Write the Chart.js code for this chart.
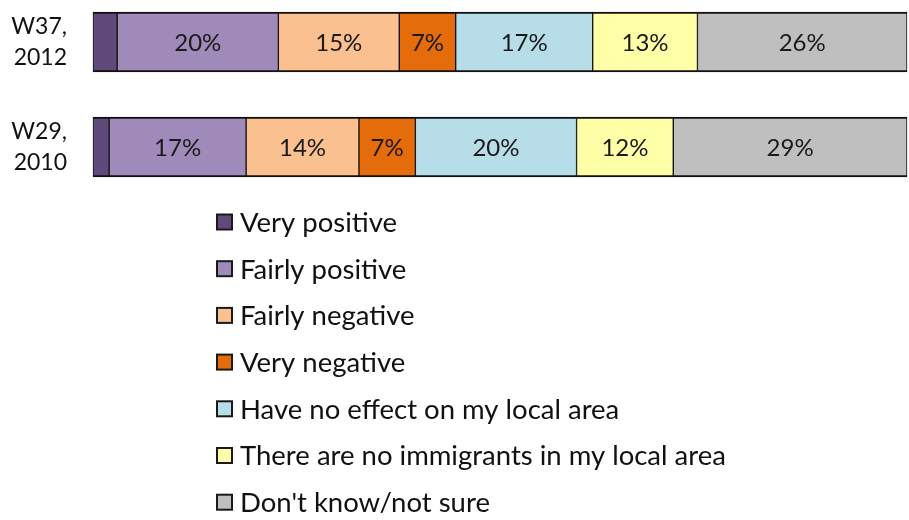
<!DOCTYPE html>
<html>
<head>
<meta charset="utf-8">
<script src="https://cdn.jsdelivr.net/npm/chart.js@4.4.1/dist/chart.umd.min.js"></script>
<style>
  html, body { margin: 0; padding: 0; background: #fff; }
  #wrap { position: relative; width: 909px; height: 520px; }
</style>
</head>
<body>
<div id="wrap"><canvas id="c" width="909" height="520"></canvas></div>
<script>
// Survey waves (one stacked bar each)
const waves = [['W37,', '2012'], ['W29,', '2010']];

// Share of answers per wave, in percent
const veryPositive   = [3, 2];
const fairlyPositive = [20, 17];
const fairlyNegative = [15, 14];
const veryNegative   = [7, 7];
const noEffect       = [17, 20];
const noImmigrants   = [13, 12];
const dontKnow       = [26, 29];

const seriesNames = [
  'Very positive',
  'Fairly positive',
  'Fairly negative',
  'Very negative',
  'Have no effect on my local area',
  'There are no immigrants in my local area',
  "Don't know/not sure"
];
const seriesValues = [veryPositive, fairlyPositive, fairlyNegative, veryNegative, noEffect, noImmigrants, dontKnow];
const seriesColors = ['#604A7B', '#A08ABA', '#FAC090', '#E46C0A', '#B7DEE8', '#FFFFA8', '#BFBFBF'];
const labelledSeries = [false, true, true, true, true, true, true];

const FONT = 'Lato, "Open Sans", sans-serif';

// Percent labels centred on each segment
const segmentLabels = {
  id: 'segmentLabels',
  afterDatasetsDraw(chart) {
    const ctx = chart.ctx;
    ctx.save();
    ctx.font = '24px ' + FONT;
    ctx.fillStyle = '#1a1a1a';
    ctx.textAlign = 'center';
    ctx.textBaseline = 'middle';
    chart.data.datasets.forEach((ds, i) => {
      if (!labelledSeries[i]) return;
      chart.getDatasetMeta(i).data.forEach((el, j) => {
        const cx = (el.x + el.base) / 2;
        ctx.fillText(ds.data[j] + '%', cx, el.y + 1);
      });
    });
    ctx.restore();
  }
};

// Single-column legend below the bars
const columnLegend = {
  id: 'columnLegend',
  afterDraw(chart) {
    const ctx = chart.ctx;
    const x0 = 217, y0 = 222, step = 46.7, box = 15;
    ctx.save();
    ctx.font = '27.5px ' + FONT;
    ctx.textBaseline = 'middle';
    ctx.textAlign = 'left';
    chart.data.datasets.forEach((ds, i) => {
      const cy = y0 + i * step;
      ctx.fillStyle = ds.backgroundColor;
      ctx.fillRect(x0, cy - box / 2, box, box);
      ctx.lineWidth = 2;
      ctx.strokeStyle = '#1a1a1a';
      ctx.strokeRect(x0, cy - box / 2, box, box);
      ctx.fillStyle = '#111';
      ctx.fillText(ds.label, x0 + 23, cy + 1);
    });
    ctx.restore();
  }
};

const total = veryPositive[0] + fairlyPositive[0] + fairlyNegative[0] + veryNegative[0] + noEffect[0] + noImmigrants[0] + dontKnow[0];

new Chart(document.getElementById('c'), {
  type: 'bar',
  data: {
    labels: waves,
    datasets: seriesNames.map((name, i) => ({
      label: name,
      data: seriesValues[i],
      backgroundColor: seriesColors[i],
      borderColor: '#111',
      borderWidth: { top: 2, bottom: 2, left: 1, right: 1 },
      borderSkipped: false,
      barThickness: 60,
      clip: false
    }))
  },
  options: {
    indexAxis: 'y',
    responsive: false,
    animation: false,
    layout: { padding: { top: 42, bottom: 373, left: 0, right: 2 } },
    plugins: { legend: { display: false }, tooltip: { enabled: false } },
    scales: {
      x: { stacked: true, min: 0, max: total, display: false },
      y: {
        stacked: true,
        offset: false,
        grid: { display: false, drawTicks: false },
        border: { display: false },
        ticks: { font: { family: FONT, size: 23, lineHeight: 1.35 }, color: '#111', padding: 26 },
        afterFit(scale) {
          scale.width = 93;
          scale.paddingTop = 0;
          scale.paddingBottom = 0;
        }
      }
    }
  },
  plugins: [segmentLabels, columnLegend]
});
</script>
</body>
</html>
